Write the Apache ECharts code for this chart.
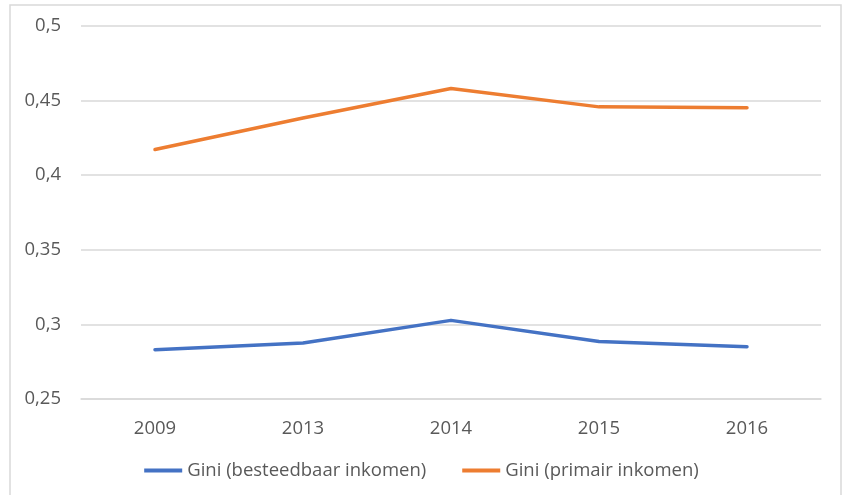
<!DOCTYPE html>
<html>
<head>
<meta charset="UTF-8">
<title>Gini</title>
<script src="https://cdn.jsdelivr.net/npm/echarts@6/dist/echarts.min.js"></script>
<style>
  html, body { margin: 0; padding: 0; background: #fff; }
  #chart { width: 843px; height: 495px; }
</style>
</head>
<body>
<div id="chart"></div>
<script>
// data
var years = ['2009', '2013', '2014', '2015', '2016'];
var giniBesteedbaar = [0.283, 0.2875, 0.3027, 0.2886, 0.285];
var giniPrimair = [0.4172, 0.4383, 0.4581, 0.4458, 0.4452];
var seriesNames = ['Gini (besteedbaar inkomen)', 'Gini (primair inkomen)'];

var myChart = echarts.init(document.getElementById('chart'));
var textColor = '#595959';
var font = 'Open Sans, Liberation Sans, sans-serif';

var option = {
  animation: false,
  backgroundColor: '#fff',
  graphic: [{
    type: 'rect',
    shape: { x: 10, y: 5, width: 831, height: 500 },
    style: { fill: 'none', stroke: '#d9d9d9', lineWidth: 1.5 },
    silent: true
  }],
  grid: { left: 81, right: 22, top: 26, bottom: 96 },
  legend: {
    bottom: 10,
    left: 'center',
    itemWidth: 38,
    itemHeight: 4,
    itemGap: 36,
    icon: 'rect',
    textStyle: { fontSize: 18.5, color: textColor, fontFamily: font },
    data: seriesNames
  },
  xAxis: {
    type: 'category',
    data: years,
    boundaryGap: true,
    axisLine: { show: true, lineStyle: { color: '#d9d9d9', width: 1.5 } },
    axisTick: { show: false },
    axisLabel: { fontSize: 18.5, color: textColor, fontFamily: font, margin: 20 }
  },
  yAxis: {
    type: 'value',
    min: 0.25,
    max: 0.5,
    interval: 0.05,
    axisLine: { show: false },
    axisTick: { show: false },
    splitLine: { lineStyle: { color: '#d9d9d9', width: 1.5 } },
    axisLabel: {
      fontSize: 18.5, color: textColor, fontFamily: font, margin: 20,
      formatter: function (v) { return String(+v.toFixed(2)).replace('.', ','); }
    }
  },
  series: [
    {
      name: seriesNames[0],
      type: 'line',
      data: giniBesteedbaar,
      showSymbol: false,
      symbol: 'none',
      itemStyle: { color: '#4472C4' },
      lineStyle: { color: '#4472C4', width: 3.5, cap: 'round', join: 'round' }
    },
    {
      name: seriesNames[1],
      type: 'line',
      data: giniPrimair,
      showSymbol: false,
      symbol: 'none',
      itemStyle: { color: '#ED7D31' },
      lineStyle: { color: '#ED7D31', width: 3.5, cap: 'round', join: 'round' }
    }
  ]
};
myChart.setOption(option);
</script>
</body>
</html>
